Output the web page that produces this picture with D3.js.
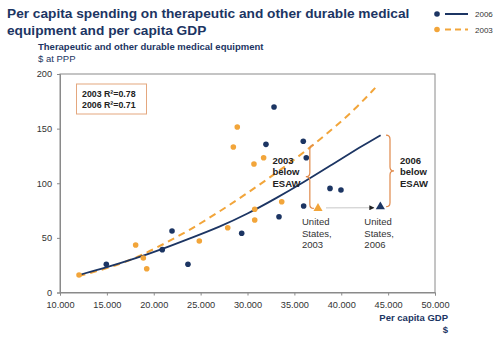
<!DOCTYPE html>
<html>
<head>
<meta charset="utf-8">
<script src="https://cdn.jsdelivr.net/npm/d3@7"></script>
<style>
  body { margin: 0; background: #fff; }
  svg { font-family: "Liberation Sans", Arial, sans-serif; }
</style>
</head>
<body>
<div class="chart"></div>
<script>
// values
var gdp2006 = [14940, 20910, 21950, 23650, 29380, 32830, 31970, 35950, 36270, 35990, 33360, 38800, 39970];
var spend2006 = [25.8, 39.2, 56.3, 25.8, 54.2, 169.8, 135.6, 138.4, 123.4, 79.2, 69.4, 95.3, 93.8];

var gdp2003 = [12030, 18070, 18890, 19250, 24860, 27890, 28910, 28490, 31720, 30690, 33650, 30770, 30770];
var spend2003 = [16, 43.5, 31.6, 21.8, 47.1, 59.3, 151.5, 133.2, 123.4, 117.6, 83.1, 76.2, 66.4];

// United States markers
var usGdp = [37520, 44170];
var usSpend = [77, 78.5];
var usYears = ["2003", "2006"];

// trend lines
var trendX2006 = [12000, 15000, 18000, 21000, 24000, 27000, 30000, 33000, 36000, 39000, 42000, 44200];
var trendY2006 = [16, 23, 31, 40, 50, 60, 72, 86, 101, 117, 133, 144];
var trendX2003 = [12000, 15000, 18000, 21000, 24000, 27000, 30000, 33000, 36000, 39000, 41500, 43700];
var trendY2003 = [15, 22, 31, 44, 58, 74, 91, 109, 128, 149, 168, 188];

var xTicks = [10000, 15000, 20000, 25000, 30000, 35000, 40000, 45000, 50000];
var yTicks = [0, 50, 100, 150, 200];
var r2Lines = ["2003 R²=0.78", "2006 R²=0.71"];

var svgWidth = 500;
var svgHeight = 341;

var navy = "#1c3563";
var orange = "#f2a53a";
var brace = "#e0894a";

var svg = d3.select(".chart")
  .append("svg")
  .attr("width", svgWidth)
  .attr("height", svgHeight);

var xScale = d3.scaleLinear().domain([10000, 50000]).range([60, 435]);
var yScale = d3.scaleLinear().domain([0, 200]).range([292.5, 74]);

var fmt = d3.formatLocale({ decimal: ",", thousands: ".", grouping: [3], currency: ["", "$"] }).format(",");

// title
svg.append("text")
  .attr("x", 7).attr("y", 18)
  .attr("font-size", 13.7).attr("font-weight", "bold").attr("fill", navy)
  .text("Per capita spending on therapeutic and other durable medical");
svg.append("text")
  .attr("x", 7).attr("y", 34.5)
  .attr("font-size", 13.7).attr("font-weight", "bold").attr("fill", navy)
  .text("equipment and per capita GDP");

// legend
var legend = svg.append("g");
legend.append("circle").attr("cx", 437).attr("cy", 14).attr("r", 2.8).attr("fill", navy);
legend.append("line").attr("x1", 445).attr("x2", 468).attr("y1", 14).attr("y2", 14)
  .attr("stroke", navy).attr("stroke-width", 2);
legend.append("text").attr("x", 475).attr("y", 17).attr("font-size", 8).attr("fill", "#333").text("2006");
legend.append("circle").attr("cx", 437).attr("cy", 29.5).attr("r", 2.8).attr("fill", orange);
legend.append("line").attr("x1", 445).attr("x2", 468).attr("y1", 29.5).attr("y2", 29.5)
  .attr("stroke", orange).attr("stroke-width", 2).attr("stroke-dasharray", "6,4");
legend.append("text").attr("x", 475).attr("y", 32.5).attr("font-size", 8).attr("fill", "#333").text("2003");

// y axis title
svg.append("text")
  .attr("x", 38).attr("y", 50)
  .attr("font-size", 9.5).attr("font-weight", "bold").attr("fill", navy)
  .text("Therapeutic and other durable medical equipment");
svg.append("text")
  .attr("x", 38).attr("y", 62)
  .attr("font-size", 9.5).attr("fill", navy)
  .text("$ at PPP");

// frame
svg.append("rect")
  .attr("x", xScale(10000)).attr("y", yScale(200))
  .attr("width", xScale(50000) - xScale(10000))
  .attr("height", yScale(0) - yScale(200))
  .attr("fill", "none").attr("stroke", "#8a8a8a").attr("stroke-width", 1);

// axes
var leftAxis = d3.axisLeft(yScale).tickValues(yTicks).tickSize(3).tickPadding(5);
var bottomAxis = d3.axisBottom(xScale).tickValues(xTicks).tickFormat(fmt).tickSize(3).tickPadding(6);

var yAxis = svg.append("g").attr("transform", `translate(${xScale(10000)},0)`).call(leftAxis);
var xAxis = svg.append("g").attr("transform", `translate(0,${yScale(0)})`).call(bottomAxis);

[xAxis, yAxis].forEach(function(ax) {
  ax.select(".domain").attr("stroke", "#8a8a8a");
  ax.selectAll(".tick line").attr("stroke", "#8a8a8a");
  ax.selectAll(".tick text").attr("fill", "#333").attr("font-size", 9.2)
    .attr("font-family", "Liberation Sans, Arial, sans-serif");
});

// x axis title
svg.append("text")
  .attr("x", 448).attr("y", 321).attr("text-anchor", "end")
  .attr("font-size", 9.5).attr("font-weight", "bold").attr("fill", navy)
  .text("Per capita GDP");
svg.append("text")
  .attr("x", 448).attr("y", 333).attr("text-anchor", "end")
  .attr("font-size", 9.5).attr("font-weight", "bold").attr("fill", navy)
  .text("$");

// R2 box
svg.append("rect")
  .attr("x", 76.5).attr("y", 84).attr("width", 70).attr("height", 30)
  .attr("fill", "#fff").attr("stroke", "#e4a77e").attr("stroke-width", 1);
r2Lines.forEach(function(t, i) {
  svg.append("text")
    .attr("x", 82).attr("y", 97 + i * 10.5)
    .attr("font-size", 8.8).attr("font-weight", "bold").attr("fill", "#222")
    .text(t);
});

// trend lines
var line = d3.line()
  .x(d => xScale(d[0]))
  .y(d => yScale(d[1]))
  .curve(d3.curveBasis);

svg.append("path")
  .datum(d3.zip(trendX2003, trendY2003))
  .attr("d", line)
  .attr("fill", "none").attr("stroke", orange).attr("stroke-width", 2)
  .attr("stroke-dasharray", "7,5");

svg.append("path")
  .datum(d3.zip(trendX2006, trendY2006))
  .attr("d", line)
  .attr("fill", "none").attr("stroke", navy).attr("stroke-width", 1.8);

// points
svg.append("g").selectAll("circle")
  .data(d3.zip(gdp2003, spend2003))
  .enter().append("circle")
  .attr("cx", d => xScale(d[0]))
  .attr("cy", d => yScale(d[1]))
  .attr("r", 2.8)
  .attr("fill", orange);

svg.append("g").selectAll("circle")
  .data(d3.zip(gdp2006, spend2006))
  .enter().append("circle")
  .attr("cx", d => xScale(d[0]))
  .attr("cy", d => yScale(d[1]))
  .attr("r", 2.8)
  .attr("fill", navy);

// braces
function bracePath(x, yTop, yBot, dir) {
  // dir = -1 tip on the left, +1 tip on the right
  var w = 4 * dir;
  var ym = (yTop + yBot) / 2;
  return `M${x - w},${yTop} Q${x},${yTop} ${x},${yTop + 4}` +
    ` L${x},${ym - 4} Q${x},${ym} ${x + w},${ym}` +
    ` Q${x},${ym} ${x},${ym + 4}` +
    ` L${x},${yBot - 4} Q${x},${yBot} ${x - w},${yBot}`;
}

svg.append("path")
  .attr("d", bracePath(xScale(36650), yScale(135), yScale(77), -1))
  .attr("fill", "none").attr("stroke", brace).attr("stroke-width", 1.2);
svg.append("path")
  .attr("d", bracePath(xScale(45200), yScale(144), yScale(78.5), 1))
  .attr("fill", "none").attr("stroke", brace).attr("stroke-width", 1.2);

// brace labels
var braceLabels = [["2003", "below", "ESAW"], ["2006", "below", "ESAW"]];
var braceLabelX = [272.5, 400];
braceLabels.forEach(function(lines, j) {
  lines.forEach(function(t, i) {
    svg.append("text")
      .attr("x", braceLabelX[j]).attr("y", 163.5 + i * 11.5)
      .attr("font-size", 9.5).attr("font-weight", "bold").attr("fill", "#222")
      .text(t);
  });
});

// arrow between the US markers
svg.append("defs").append("marker")
  .attr("id", "arr").attr("viewBox", "0 0 10 10")
  .attr("refX", 10).attr("refY", 5)
  .attr("markerWidth", 5).attr("markerHeight", 5)
  .attr("orient", "auto")
  .append("path").attr("d", "M0,0 L10,5 L0,10 z").attr("fill", "#222");

svg.append("line")
  .attr("x1", xScale(usGdp[0]) + 8).attr("y1", yScale(usSpend[0]) - 0.5)
  .attr("x2", xScale(usGdp[1]) - 6).attr("y2", yScale(usSpend[1]) + 1)
  .attr("stroke", "#c8c8c8").attr("stroke-width", 1)
  .attr("marker-end", "url(#arr)");

// US triangles
var tri = d3.symbol().type(d3.symbolTriangle).size(36);
svg.append("g").selectAll("path")
  .data(d3.zip(usGdp, usSpend))
  .enter().append("path")
  .attr("d", tri)
  .attr("transform", d => `translate(${xScale(d[0])},${yScale(d[1])})`)
  .attr("fill", (d, i) => i === 0 ? orange : navy);

// US labels
usYears.forEach(function(yr, j) {
  ["United", "States,", yr].forEach(function(t, i) {
    svg.append("text")
      .attr("x", xScale(usGdp[j]) - 16).attr("y", 225 + i * 11.5)
      .attr("font-size", 9.5).attr("fill", "#333")
      .text(t);
  });
});
</script>
</body>
</html>
